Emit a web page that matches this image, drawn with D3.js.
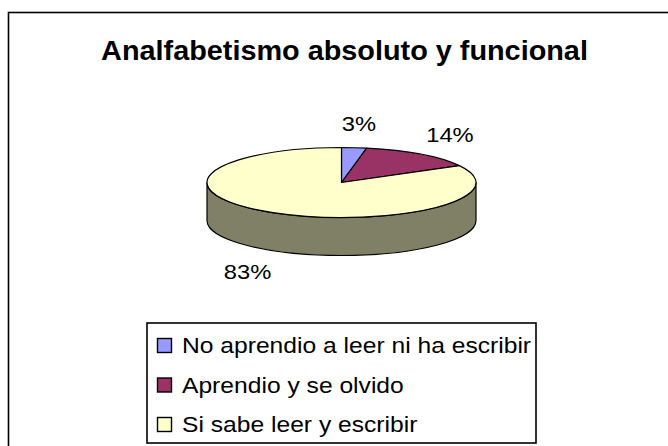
<!DOCTYPE html>
<html lang="es">
<head>
    <meta charset="UTF-8">
    <title>Analfabetismo absoluto y funcional</title>
    <script src="https://d3js.org/d3.v7.min.js"></script>
    <style>
        body { margin: 0; background: #fff; }
        text { font-family: "Liberation Sans", Arial, sans-serif; fill: #000; }
        .title { font-size: 28px; font-weight: bold; text-anchor: middle; }
        .label { font-size: 21px; text-anchor: middle; }
        .legend-text { font-size: 22px; }
    </style>
</head>
<body>
    <div id="chart"></div>
    <script>
        const categories = ["No aprendio a leer ni ha escribir", "Aprendio y se olvido", "Si sabe leer y escribir"];
        const values = [3, 14, 83];
        const colors = ["#9999FF", "#993366", "#FFFFCC"];
        const sideColors = ["#4D4D80", "#4D1A33", "#808066"];

        const width = 668, height = 446;
        const cx = 341.5, cy = 182.5, rx = 134.5, ry = 35, depth = 38;
        const textStretch = 1.13;

        const svg = d3.select("#chart").append("svg")
            .attr("width", width)
            .attr("height", height);

        // outer chart frame (runs past the picture on the right and bottom)
        svg.append("rect")
            .attr("x", 8.5).attr("y", 12.5)
            .attr("width", 720).attr("height", 500)
            .attr("fill", "none").attr("stroke", "#000").attr("stroke-width", 1.6);

        svg.append("text")
            .attr("class", "title")
            .attr("transform", `translate(344.5,60) scale(1.03,1)`)
            .text("Analfabetismo absoluto y funcional");

        const pie = d3.pie().value(d => d).sort(null);
        const arcs = pie(values);

        // point on the tilted rim, angle clockwise from 12 o'clock
        const pt = (a, dy = 0) => [cx + rx * Math.sin(a), cy - ry * Math.cos(a) + dy];

        function topPath(d) {
            const p0 = pt(d.startAngle), p1 = pt(d.endAngle);
            const large = d.endAngle - d.startAngle > Math.PI ? 1 : 0;
            return `M${cx},${cy}L${p0}A${rx},${ry} 0 ${large} 1 ${p1}Z`;
        }

        function sidePath(d) {
            const s0 = Math.max(d.startAngle, Math.PI / 2);
            const s1 = Math.min(d.endAngle, 3 * Math.PI / 2);
            if (s0 >= s1) return null;
            const a = pt(s0), b = pt(s1), c = pt(s1, depth), e = pt(s0, depth);
            return `M${a}A${rx},${ry} 0 0 1 ${b}L${c}A${rx},${ry} 0 0 0 ${e}Z`;
        }

        const pieG = svg.append("g");

        pieG.selectAll(".side")
            .data(arcs.filter(d => sidePath(d)))
            .join("path")
            .attr("class", "side")
            .attr("d", sidePath)
            .attr("fill", d => sideColors[d.index])
            .attr("stroke", "#000")
            .attr("stroke-width", 1.2)
            .attr("stroke-linejoin", "round");

        pieG.selectAll(".top")
            .data(arcs)
            .join("path")
            .attr("class", "top")
            .attr("d", topPath)
            .attr("fill", d => colors[d.index])
            .attr("stroke", "#000")
            .attr("stroke-width", 1.2)
            .attr("stroke-linejoin", "round");

        // percentage labels just outside the rim
        pieG.selectAll(".label")
            .data(arcs)
            .join("text")
            .attr("class", "label")
            .attr("transform", d => {
                const m = (d.startAngle + d.endAngle) / 2;
                const drop = Math.cos(m) < 0 ? depth : 0;
                const [x, y] = pt(m, drop);
                return `translate(${x + 50 * Math.sin(m)},${y - 24 * Math.cos(m) + 7.5}) scale(${textStretch},1)`;
            })
            .text(d => `${Math.round(100 * d.value / d3.sum(values))}%`);

        // legend
        const lx = 147, ly = 323, rowH = 39.5;
        const legend = svg.append("g");
        legend.append("rect")
            .attr("x", lx).attr("y", ly)
            .attr("width", 389).attr("height", 120)
            .attr("fill", "#fff").attr("stroke", "#000").attr("stroke-width", 1.6);

        const rows = legend.selectAll(".row")
            .data(categories)
            .join("g")
            .attr("class", "row")
            .attr("transform", (d, i) => `translate(${lx},${ly + 30 + i * rowH})`);

        rows.append("rect")
            .attr("x", 10.5).attr("y", -14.5)
            .attr("width", 14).attr("height", 14)
            .attr("fill", (d, i) => colors[i])
            .attr("stroke", "#000").attr("stroke-width", 1.4);

        rows.append("text")
            .attr("class", "legend-text")
            .attr("transform", `translate(35,0) scale(1.12,1)`)
            .text(d => d);
    </script>
</body>
</html>
